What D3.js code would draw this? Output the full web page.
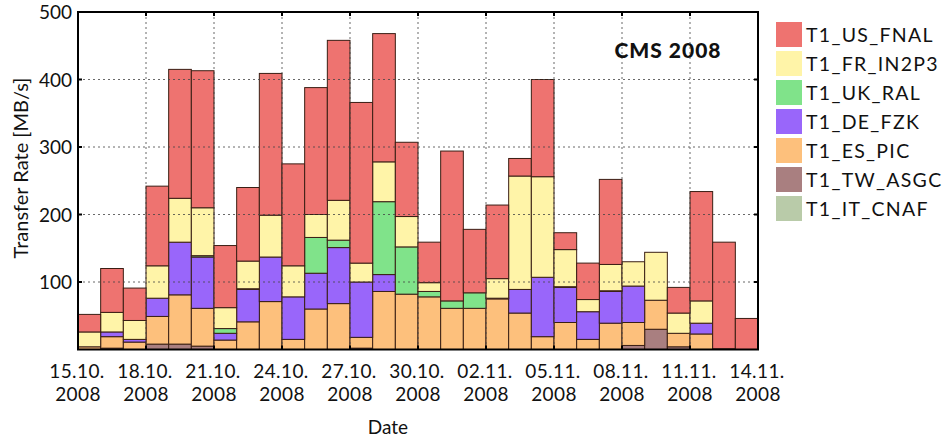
<!DOCTYPE html>
<html>
<head>
<meta charset="utf-8">
<script src="https://cdn.jsdelivr.net/npm/d3@7"></script>
<style>
  html, body { margin: 0; padding: 0; background: #fff; }
  svg { display: block; font-family: Lato, "Open Sans", sans-serif; }
</style>
</head>
<body>
<svg id="chart" width="950" height="439"></svg>
<script>
// ---- DATA ----
const startDate = "2008-10-15";
const dayCount = 30;
const seriesNames = ["T1_US_FNAL", "T1_FR_IN2P3", "T1_UK_RAL", "T1_DE_FZK", "T1_ES_PIC", "T1_TW_ASGC", "T1_IT_CNAF"];
const seriesColors = ["#ee7370", "#fff4a8", "#80e38a", "#9966fa", "#fdc07c", "#a97f80", "#b9cba9"];
// stacking order from bottom: IT, TW, ES, DE, UK, FR, US
const US_FNAL  = [26, 65, 48, 118, 191, 203, 92, 109, 210, 151, 188, 237, 238, 190, 110, 60, 222, 94, 109, 26, 144, 25, 54, 126, 0, 0, 38, 162, 158, 46];
const FR_IN2P3 = [22, 29, 28, 48, 65, 71, 31, 41, 62, 46, 34, 59, 28, 59, 45, 13, 0, 0, 29, 168, 149, 55, 18, 39, 36, 71, 30, 33, 0, 0];
const UK_RAL   = [0, 0, 0, 0, 0, 2, 7, 1, 0, 0, 53, 11, 0, 108, 70, 8, 11, 23, 1, 0, 0, 1, 0, 1, 0, 0, 0, 0, 0, 0];
const DE_FZK   = [0, 7, 4, 27, 78, 76, 10, 48, 66, 63, 53, 83, 82, 25, 0, 0, 0, 0, 0, 35, 88, 52, 41, 47, 54, 0, 0, 16, 0, 0];
const ES_PIC   = [4, 17, 11, 41, 73, 56, 14, 41, 71, 15, 60, 68, 16, 86, 82, 78, 61, 61, 75, 54, 19, 40, 15, 39, 34, 43, 20, 23, 1, 0];
const TW_ASGC  = [0, 2, 0, 8, 8, 5, 0, 0, 0, 0, 0, 0, 2, 0, 0, 0, 0, 0, 0, 0, 0, 0, 0, 0, 6, 30, 4, 0, 0, 0];
const IT_CNAF  = [0, 0, 0, 0, 0, 0, 0, 0, 0, 0, 0, 0, 0, 0, 0, 0, 0, 0, 0, 0, 0, 0, 0, 0, 0, 0, 0, 0, 0, 0];
const xTickDates = ["2008-10-15", "2008-10-18", "2008-10-21", "2008-10-24", "2008-10-27", "2008-10-30",
                    "2008-11-02", "2008-11-05", "2008-11-08", "2008-11-11", "2008-11-14"];
const yTicks = [100, 200, 300, 400, 500];
const yGrid = [100, 200, 300, 400];

// ---- BUILD TABLE ----
const parse = d3.utcParse("%Y-%m-%d");
const d0 = parse(startDate);
const seriesValues = {
  "T1_US_FNAL": US_FNAL, "T1_FR_IN2P3": FR_IN2P3, "T1_UK_RAL": UK_RAL, "T1_DE_FZK": DE_FZK,
  "T1_ES_PIC": ES_PIC, "T1_TW_ASGC": TW_ASGC, "T1_IT_CNAF": IT_CNAF
};
const rows = d3.range(dayCount).map(i => {
  const r = { date: d3.utcDay.offset(d0, i) };
  seriesNames.forEach(n => r[n] = seriesValues[n][i]);
  return r;
});
const stackOrder = seriesNames.slice().reverse();
const stacked = d3.stack().keys(stackOrder)(rows);
const color = d3.scaleOrdinal().domain(seriesNames).range(seriesColors);

// ---- LAYOUT ----
const L = 78, R = 758, T = 12, B = 349.5;
const svg = d3.select("#chart");
const x = d3.scaleUtc().domain([d0, d3.utcDay.offset(d0, dayCount)]).range([L, R]);
const y = d3.scaleLinear().domain([0, 500]).range([B, T]);

// bars
svg.append("g").selectAll("g").data(stacked).join("g")
  .attr("fill", d => color(d.key))
  .selectAll("rect").data(d => d.filter(s => s[1] - s[0] > 0)).join("rect")
  .attr("x", d => x(d.data.date))
  .attr("width", d => x(d3.utcDay.offset(d.data.date, 1)) - x(d.data.date))
  .attr("y", d => y(d[1]))
  .attr("height", d => y(d[0]) - y(d[1]))
  .attr("stroke", "#3a1e14")
  .attr("stroke-width", 1);

// grid (drawn over bars, dashed)
const tickDates = xTickDates.map(parse);
const grid = svg.append("g").attr("stroke", "#444").attr("stroke-width", 1)
  .attr("stroke-dasharray", "2,3").attr("opacity", 0.8);
grid.selectAll("line.v").data(tickDates.slice(1, -1)).join("line")
  .attr("x1", d => x(d)).attr("x2", d => x(d)).attr("y1", T).attr("y2", B);
grid.selectAll("line.h").data(yGrid).join("line")
  .attr("x1", L).attr("x2", R).attr("y1", d => y(d)).attr("y2", d => y(d));

// axes
const fmtDay = d3.utcFormat("%d.%m.");
const fmtYear = d3.utcFormat("%Y");
const xAxisG = svg.append("g").attr("transform", `translate(0,${B})`)
  .call(d3.axisBottom(x).tickValues(tickDates).tickSize(0).tickFormat(""));
xAxisG.select(".domain").remove();
const xl = svg.append("g").attr("font-size", 19).attr("fill", "#111").attr("text-anchor", "middle")
  .attr("letter-spacing", "0.4px");
xl.selectAll("text.a").data(tickDates).join("text")
  .attr("x", d => x(d) - 1).attr("y", 378).text(d => fmtDay(d));
xl.selectAll("text.b").data(tickDates).join("text")
  .attr("x", d => x(d)).attr("y", 401).text(d => fmtYear(d));

const yAxisG = svg.append("g").attr("transform", `translate(${L},0)`)
  .call(d3.axisLeft(y).tickValues(yTicks).tickSize(0).tickPadding(6));
yAxisG.select(".domain").remove();
yAxisG.selectAll("text").attr("font-size", 19).attr("font-family", "Lato, sans-serif")
  .attr("fill", "#111").attr("dy", "0.35em");

// tick marks on frame
const tm = svg.append("g").attr("stroke", "#000").attr("stroke-width", 2);
tm.selectAll("line.t").data(tickDates).join("line")
  .attr("x1", d => x(d)).attr("x2", d => x(d)).attr("y1", T).attr("y2", T + 4);
tm.selectAll("line.b").data(tickDates).join("line")
  .attr("x1", d => x(d)).attr("x2", d => x(d)).attr("y1", B).attr("y2", B - 4);
tm.selectAll("line.l").data(yGrid).join("line")
  .attr("x1", L).attr("x2", L + 4).attr("y1", d => y(d)).attr("y2", d => y(d));
tm.selectAll("line.r").data(yGrid).join("line")
  .attr("x1", R).attr("x2", R - 4).attr("y1", d => y(d)).attr("y2", d => y(d));

// frame
svg.append("rect").attr("x", L).attr("y", T).attr("width", R - L).attr("height", B - T)
  .attr("fill", "none").attr("stroke", "#000").attr("stroke-width", 2);

// labels
svg.append("text").attr("transform", "translate(28,168) rotate(-90)")
  .attr("text-anchor", "middle").attr("font-size", 20).attr("fill", "#111")
  .text("Transfer Rate [MB/s]");
svg.append("text").attr("x", 388).attr("y", 434).attr("text-anchor", "middle")
  .attr("font-size", 19).attr("fill", "#111").text("Date");
svg.append("text").attr("x", 668).attr("y", 58).attr("text-anchor", "middle")
  .attr("font-size", 21).attr("font-weight", 900).attr("letter-spacing", "1px")
  .attr("fill", "#111").text("CMS 2008");

// legend
const lg = svg.append("g").attr("transform", "translate(776,22)");
const li = lg.selectAll("g").data(seriesNames).join("g")
  .attr("transform", (d, i) => `translate(0,${i * 29})`);
li.append("rect").attr("width", 26).attr("height", 25).attr("fill", d => color(d));
li.append("text").attr("x", 30).attr("y", 12.5).attr("dy", "0.36em")
  .attr("font-size", 19.5).attr("letter-spacing", "1.3px").attr("fill", "#111").text(d => d);
</script>
</body>
</html>
